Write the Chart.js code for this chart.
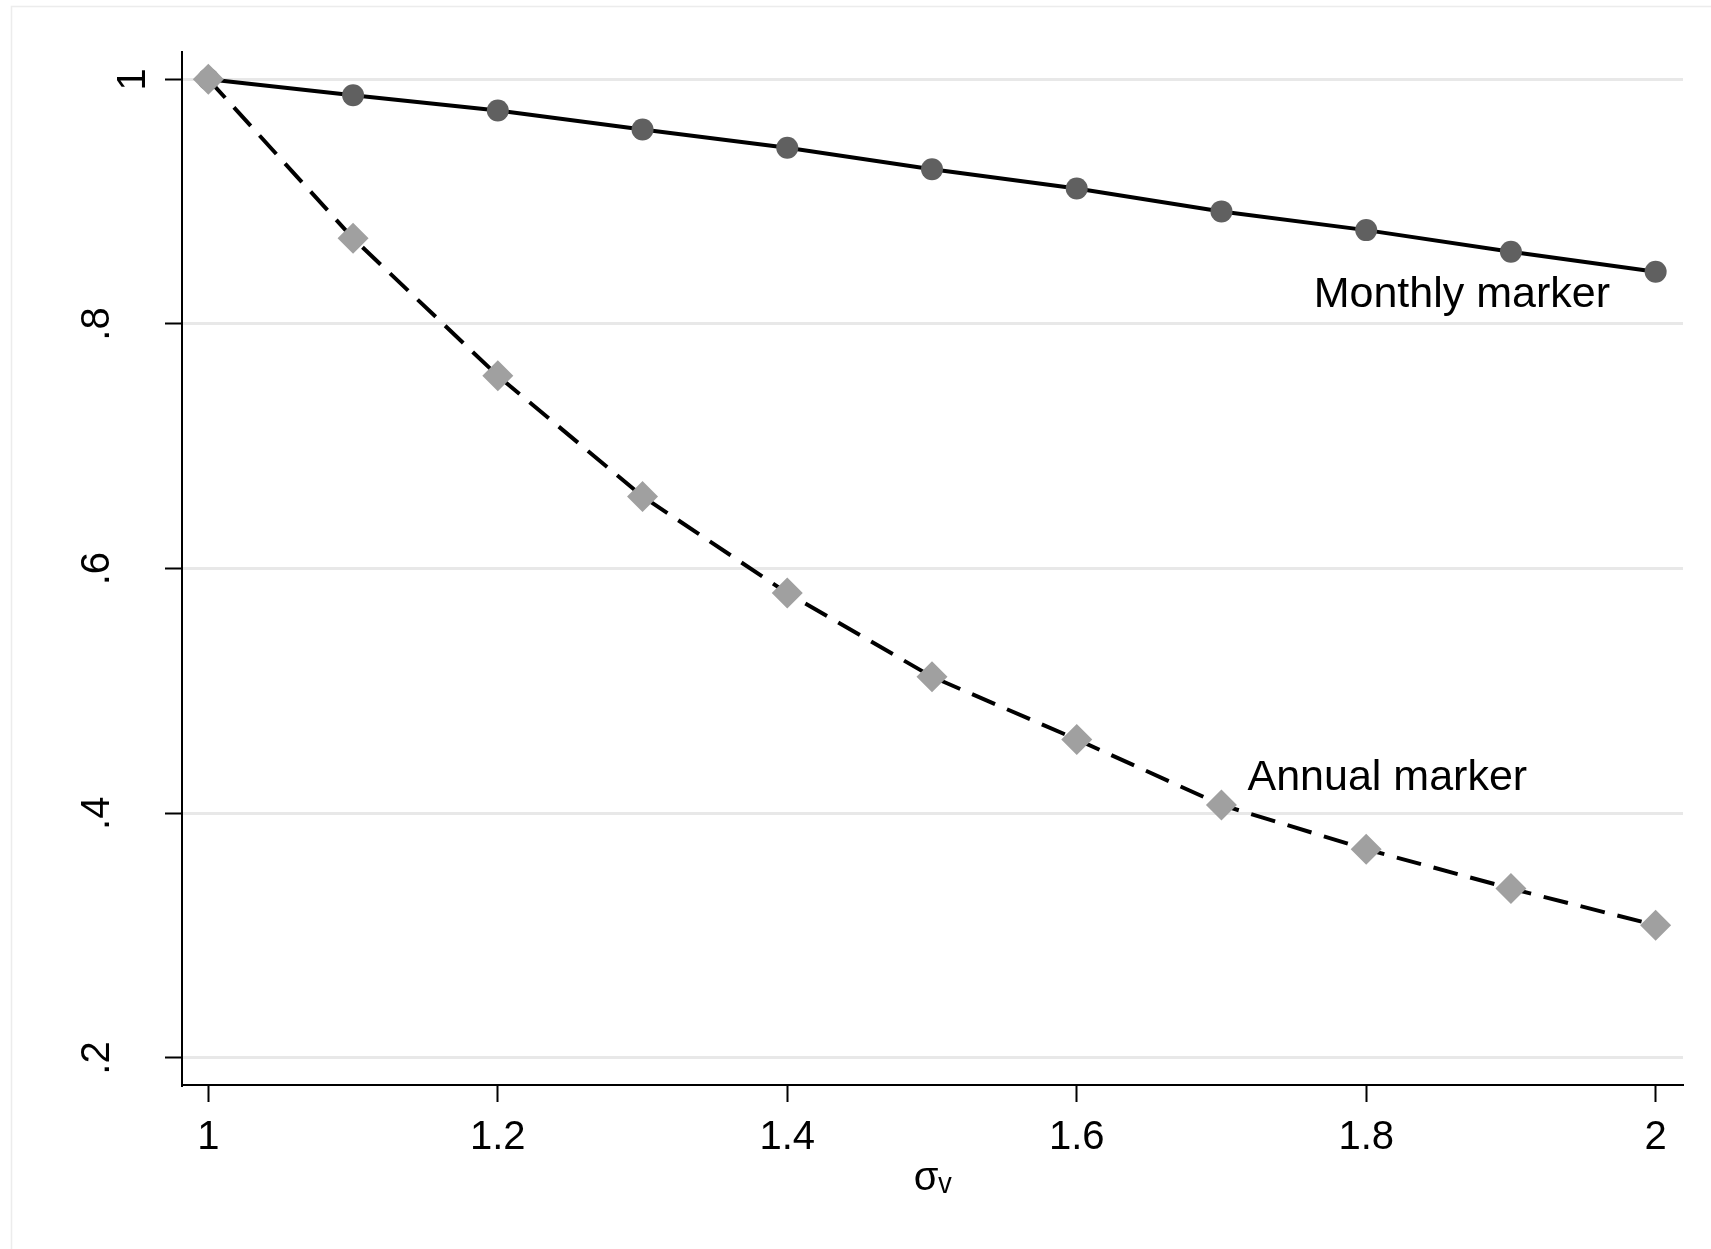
<!DOCTYPE html>
<html><head><meta charset="utf-8">
<script src="https://cdn.jsdelivr.net/npm/chart.js@4/dist/chart.umd.min.js"></script>
<style>html,body{margin:0;padding:0;background:#fff;}#wrap{width:1711px;height:1249px;}</style>
</head><body><div id="wrap"><canvas id="c" width="1711" height="1249"></canvas></div>
<script>
const sigmaV = [1.0, 1.1, 1.2, 1.3, 1.4, 1.5, 1.6, 1.7, 1.8, 1.9, 2.0];
const monthlyMarker = [1.0, 0.987, 0.9745, 0.959, 0.944, 0.9265, 0.9108, 0.892, 0.8767, 0.859, 0.8427];
const annualMarker = [1.0, 0.870, 0.7576, 0.659, 0.580, 0.5116, 0.4604, 0.4068, 0.3706, 0.3385, 0.3085];
const xTicks = [1, 1.2, 1.4, 1.6, 1.8, 2];
const xTickLabels = ['1', '1.2', '1.4', '1.6', '1.8', '2'];
const yTicks = [0.2, 0.4, 0.6, 0.8, 1];
const yTickLabels = ['.2', '.4', '.6', '.8', '1'];
const seriesNames = ['Monthly marker', 'Annual marker'];
const xTitle = 'σᵥ';
const labelAnchorX = [1.7637, 1.718];
const labelAnchorY = [0.8139, 0.419];

const FONT = '"Liberation Sans", Arial, sans-serif';

const toPts = (ys) => sigmaV.map((x, i) => ({x: x, y: ys[i]}));

const frame = {
  id: 'frame',
  beforeDraw(chart) {
    const c = chart.ctx;
    c.save();
    c.fillStyle = '#fff';
    c.fillRect(0, 0, chart.width, chart.height);
    c.strokeStyle = '#ececec';
    c.lineWidth = 1.5;
    c.strokeRect(11.5, 6.5, chart.width + 20, chart.height + 20);
    c.restore();
  }
};

const seriesLabels = {
  id: 'seriesLabels',
  afterDatasetsDraw(chart) {
    const c = chart.ctx, xs = chart.scales.x, ys = chart.scales.y;
    c.save();
    c.font = '43px ' + FONT;
    c.fillStyle = '#000';
    c.textAlign = 'left';
    c.textBaseline = 'alphabetic';
    seriesNames.forEach((t, i) => {
      c.fillText(t, xs.getPixelForValue(labelAnchorX[i]), ys.getPixelForValue(labelAnchorY[i]));
    });
    c.restore();
  }
};

new Chart(document.getElementById('c'), {
  type: 'line',
  data: {
    datasets: [
      {
        label: seriesNames[1],
        data: toPts(annualMarker),
        borderColor: '#000',
        borderWidth: 4,
        borderDash: [25, 13],
        pointStyle: 'rectRot',
        pointRadius: 15.5,
        pointBackgroundColor: '#a0a0a0',
        pointBorderColor: '#a0a0a0',
        pointBorderWidth: 0,
        tension: 0,
        fill: false
      },
      {
        label: seriesNames[0],
        data: toPts(monthlyMarker),
        borderColor: '#000',
        borderWidth: 4,
        pointStyle: 'circle',
        pointRadius: 11,
        pointBackgroundColor: '#606060',
        pointBorderColor: '#606060',
        pointBorderWidth: 0,
        tension: 0,
        fill: false
      }
    ]
  },
  options: {
    responsive: false,
    devicePixelRatio: 1,
    animation: false,
    events: [],
    layout: {padding: {top: 52, right: 28, left: 0, bottom: 0}},
    plugins: {legend: {display: false}, tooltip: {enabled: false}, title: {display: false}},
    scales: {
      x: {
        type: 'linear',
        min: 0.9818,
        max: 2.0189,
        afterBuildTicks: (s) => { s.ticks = xTicks.map(v => ({value: v})); },
        afterFit: (s) => { s.height = 164; s.paddingLeft = 0; s.paddingRight = 0; },
        ticks: {
          callback: (v, i) => xTickLabels[i],
          font: {family: FONT, size: 40},
          color: '#000',
          padding: 12,
          maxRotation: 0,
          minRotation: 0,
          autoSkip: false
        },
        grid: {drawOnChartArea: false, drawTicks: true, tickLength: 17, tickWidth: 2, tickColor: '#000'},
        border: {display: true, color: '#000', width: 2},
        title: {display: true, text: xTitle, font: {family: FONT, size: 40}, color: '#000', padding: {top: 0, bottom: 46}}
      },
      y: {
        type: 'linear',
        min: 0.1779,
        max: 1.0223,
        afterBuildTicks: (s) => { s.ticks = yTicks.map(v => ({value: v})); },
        afterFit: (s) => { s.width = 182; s.paddingTop = 0; s.paddingBottom = 0; },
        ticks: {
          callback: (v, i) => (yTickLabels[i] === '1' ? ['', yTickLabels[i]] : yTickLabels[i]),
          font: (ctx) => ({family: FONT, size: 40, lineHeight: (ctx.index === yTicks.length - 1 ? '72px' : 1.2)}),
          color: '#000',
          padding: 50,
          minRotation: 90,
          maxRotation: 90,
          crossAlign: 'center',
          autoSkip: false
        },
        grid: {color: '#e8e8e8', lineWidth: 3, drawTicks: true, tickLength: 17, tickWidth: 2, tickColor: '#000'},
        border: {display: true, color: '#000', width: 2}
      }
    }
  },
  plugins: [frame, seriesLabels]
});
</script>
</body></html>
